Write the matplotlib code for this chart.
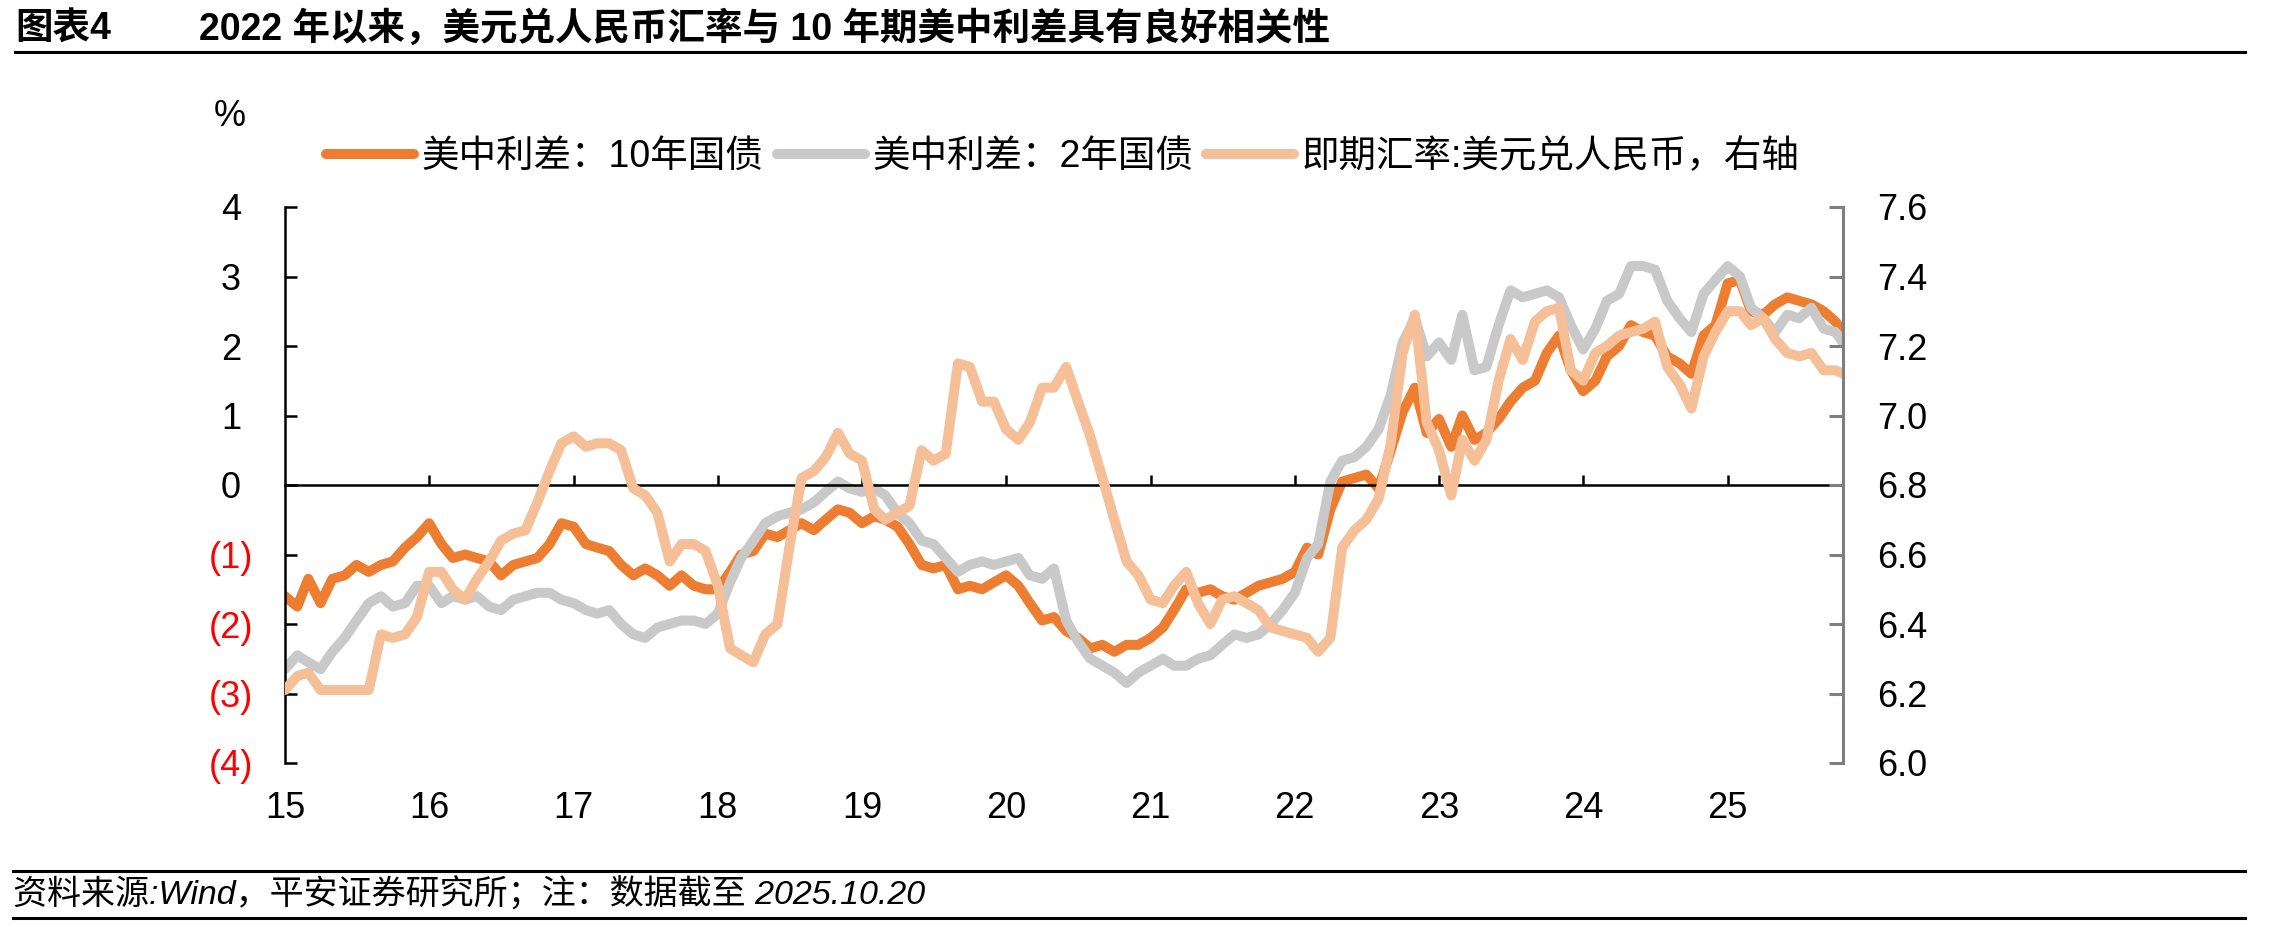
import matplotlib.pyplot as plt
import matplotlib.dates as mdates
from matplotlib.lines import Line2D
import pandas as pd

plt.rcParams['font.family'] = ['Liberation Sans', 'Noto Sans CJK SC']

# monthly points (1st of month) from 2015-01 to 2025-10, plus the last day 2025-10-20
dates = list(pd.date_range("2015-01-01", "2025-10-01", freq="MS")) + [pd.Timestamp("2025-10-20")]

spread_10y = [
    -1.6, -1.75, -1.35, -1.7, -1.35, -1.3, -1.15, -1.25, -1.15, -1.1, -0.9, -0.75,
    -0.55, -0.85, -1.05, -1.0, -1.05, -1.1, -1.3, -1.15, -1.1, -1.05, -0.85, -0.55,
    -0.6, -0.85, -0.9, -0.95, -1.15, -1.3, -1.2, -1.3, -1.45, -1.3, -1.45, -1.5,
    -1.5, -1.25, -1.0, -0.95, -0.7, -0.75, -0.65, -0.55, -0.65, -0.5, -0.35, -0.4,
    -0.55, -0.45, -0.5, -0.6, -0.85, -1.15, -1.2, -1.15, -1.5, -1.45, -1.5, -1.4,
    -1.3, -1.45, -1.7, -1.95, -1.9, -2.1, -2.2, -2.35, -2.3, -2.4, -2.3, -2.3,
    -2.2, -2.05, -1.8, -1.5, -1.55, -1.5, -1.6, -1.65, -1.55, -1.45, -1.4, -1.35,
    -1.25, -0.9, -1.0, -0.35, 0.05, 0.1, 0.15, -0.05, 0.5, 1.05, 1.4, 0.75,
    0.95, 0.55, 1.0, 0.65, 0.75, 0.95, 1.2, 1.4, 1.5, 1.9, 2.15, 1.65,
    1.35, 1.5, 1.85, 2.0, 2.3, 2.2, 2.15, 1.85, 1.75, 1.6, 2.15, 2.3,
    2.9, 2.95, 2.5, 2.45, 2.6, 2.7, 2.65, 2.6, 2.5, 2.35, 2.2,
]

spread_2y = [
    -2.65, -2.45, -2.55, -2.65, -2.4, -2.2, -1.95, -1.7, -1.6, -1.75, -1.7, -1.45,
    -1.45, -1.7, -1.6, -1.65, -1.6, -1.75, -1.8, -1.65, -1.6, -1.55, -1.55, -1.65,
    -1.7, -1.8, -1.85, -1.8, -2.0, -2.15, -2.2, -2.05, -2.0, -1.95, -1.95, -2.0,
    -1.85, -1.4, -1.05, -0.8, -0.55, -0.45, -0.4, -0.35, -0.25, -0.1, 0.05, -0.05,
    -0.1, -0.05, -0.15, -0.4, -0.55, -0.8, -0.85, -1.05, -1.25, -1.15, -1.1, -1.15,
    -1.1, -1.05, -1.3, -1.35, -1.2, -1.95, -2.25, -2.5, -2.6, -2.7, -2.85, -2.7,
    -2.6, -2.5, -2.6, -2.6, -2.5, -2.45, -2.3, -2.15, -2.2, -2.15, -2.0, -1.8,
    -1.55, -1.05, -0.85, 0.05, 0.35, 0.4, 0.55, 0.8, 1.3, 2.05, 2.4, 1.85,
    2.05, 1.8, 2.45, 1.65, 1.7, 2.3, 2.8, 2.7, 2.75, 2.8, 2.7, 2.3,
    1.95, 2.25, 2.65, 2.75, 3.15, 3.15, 3.1, 2.65, 2.4, 2.2, 2.75, 2.95,
    3.15, 3.0, 2.55, 2.4, 2.2, 2.45, 2.4, 2.55, 2.25, 2.2, 2.05,
]

usdcny = [
    6.21, 6.25, 6.26, 6.21, 6.21, 6.21, 6.21, 6.21, 6.37, 6.36, 6.37, 6.42,
    6.55, 6.55, 6.50, 6.47, 6.53, 6.58, 6.64, 6.66, 6.67, 6.75, 6.84, 6.92,
    6.94, 6.91, 6.92, 6.92, 6.90, 6.79, 6.77, 6.72, 6.58, 6.63, 6.63, 6.61,
    6.51, 6.33, 6.31, 6.29, 6.37, 6.40, 6.62, 6.82, 6.84, 6.88, 6.95, 6.89,
    6.87, 6.73, 6.70, 6.72, 6.74, 6.90, 6.87, 6.89, 7.15, 7.14, 7.04, 7.04,
    6.96, 6.93, 6.98, 7.08, 7.08, 7.14, 7.04, 6.94, 6.82, 6.70, 6.58, 6.54,
    6.47, 6.46, 6.51, 6.55, 6.46, 6.40, 6.47, 6.48, 6.46, 6.44, 6.39, 6.38,
    6.37, 6.36, 6.32, 6.36, 6.62, 6.67, 6.70, 6.76, 6.92, 7.18, 7.29, 6.98,
    6.90, 6.77, 6.93, 6.87, 6.93, 7.10, 7.22, 7.16, 7.27, 7.30, 7.31, 7.13,
    7.10, 7.18, 7.20, 7.23, 7.24, 7.25, 7.27, 7.14, 7.09, 7.02, 7.17, 7.24,
    7.30, 7.30, 7.26, 7.28, 7.22, 7.18, 7.17, 7.18, 7.13, 7.13, 7.12,
]

series_names = ["美中利差：10年国债", "美中利差：2年国债", "即期汇率:美元兑人民币，右轴"]
left_ticks = [-4, -3, -2, -1, 0, 1, 2, 3, 4]
left_labels = ["(4)", "(3)", "(2)", "(1)", "0", "1", "2", "3", "4"]
right_ticks = [6.0, 6.2, 6.4, 6.6, 6.8, 7.0, 7.2, 7.4, 7.6]
years = list(range(2015, 2026))
year_labels = [str(y)[2:] for y in years]

W, H = 2281, 927
fig = plt.figure(figsize=(W / 100, H / 100), dpi=100)
ax = fig.add_axes([285 / W, 1 - 763 / H, (1843 - 285) / W, (763 - 207) / H])
ax2 = ax.twinx()

lw = 7.2
l1, = ax.plot(dates, spread_10y, color="#ED7D31", lw=lw, solid_capstyle="round",
              solid_joinstyle="round", label=series_names[0])
l2, = ax.plot(dates, spread_2y, color="#C9C9C9", lw=lw, solid_capstyle="round",
              solid_joinstyle="round", label=series_names[1])
l3, = ax2.plot(dates, usdcny, color="#F5BF98", lw=lw, solid_capstyle="round",
               solid_joinstyle="round", label=series_names[2])

ax.set_xlim(pd.Timestamp("2015-01-01"), pd.Timestamp("2025-10-20"))
ax.set_ylim(-4, 4)
ax2.set_ylim(6.0, 7.6)

# left axis
ax.set_yticks(left_ticks)
ax.set_yticklabels(left_labels)
ax.tick_params(axis="y", direction="in", length=8.5, width=1.8, pad=39, labelsize=26)
for lbl, v in zip(ax.get_yticklabels(), left_ticks):
    lbl.set_horizontalalignment("center")
    lbl.set_color("red" if v < 0 else "black")
ax.spines["left"].set_linewidth(1.8)
ax.spines["top"].set_visible(False)
ax.spines["right"].set_visible(False)

# x axis sits on the zero line, year ticks point up
ax.spines["bottom"].set_position(("data", 0))
ax.spines["bottom"].set_linewidth(1.8)
ax.set_xticks([pd.Timestamp(f"{y}-01-01") for y in years[1:]])
ax.tick_params(axis="x", direction="in", length=7, width=1.8, labelbottom=False)
for y, lab in zip(years, year_labels):
    ax.text(mdates.date2num(pd.Timestamp(f"{y}-01-01")), -0.081, lab, fontsize=26,
            ha="center", va="center", transform=ax.get_xaxis_transform())

# right axis
for s in ["left", "top", "bottom"]:
    ax2.spines[s].set_visible(False)
ax2.spines["right"].set_color("#7F7F7F")
ax2.spines["right"].set_linewidth(2.2)
ax2.set_yticks(right_ticks)
ax2.set_yticklabels([f"{v:.1f}" for v in right_ticks])
ax2.tick_params(axis="y", direction="in", length=10, width=2.2, color="#7F7F7F",
                pad=24.5, labelsize=26, labelcolor="black")

fig.text(230 / W, 1 - 117 / H, "%", fontsize=26, ha="center", va="center")

fig.legend([l1, l2, l3], series_names, loc="center", bbox_to_anchor=(1063 / W, 1 - 157 / H),
           ncol=3, frameon=False, fontsize=27, handlelength=2.35, handletextpad=0.2,
           columnspacing=0.35, borderpad=0)

# title and footer
fig.text(15 / W, 1 - 29 / H, "图表4", fontsize=27, fontweight="bold", va="center")
fig.text(199 / W, 1 - 29 / H, "2022 年以来，美元兑人民币汇率与 10 年期美中利差具有良好相关性",
         fontsize=27, fontweight="bold", va="center")
fig.add_artist(Line2D([15 / W, 2245 / W], [1 - 52 / H] * 2, color="black", lw=2.2))
fig.add_artist(Line2D([13 / W, 2245 / W], [1 - 871 / H] * 2, color="black", lw=2.2))
fig.add_artist(Line2D([13 / W, 2245 / W], [1 - 918 / H] * 2, color="black", lw=2.2))
fig.text(13 / W, 1 - 894 / H, "资料来源:Wind，平安证券研究所；注：数据截至 2025.10.20",
         fontsize=24.5, style="italic", va="center")

fig.savefig("out.png", dpi=100)
